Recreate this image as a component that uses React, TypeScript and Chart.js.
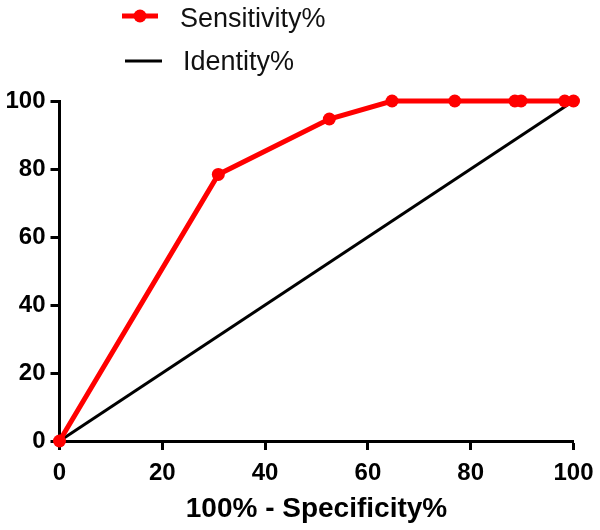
import { useEffect, useRef } from 'react';
import { Chart, registerables } from 'chart.js';

Chart.register(...registerables);

// ---- data ----
const specificityX = [0, 30.9, 52.5, 64.7, 76.9, 88.6, 89.8, 98.3, 100];
const sensitivityY = [0, 78.4, 94.7, 100, 100, 100, 100, 100, 100];
const identityX = [0, 100];
const identityY = [0, 100];
const tickValues = [0, 20, 40, 60, 80, 100];
const seriesLabels = ['Sensitivity%', 'Identity%'];
const xAxisTitle = '100% - Specificity%';

const FONT = "'Liberation Sans', Arial, Helvetica, sans-serif";

const legendPlugin = {
  id: 'stackedLegend',
  afterDraw(chart: any) {
    const ctx = chart.ctx;
    ctx.save();
    chart.data.datasets.forEach((ds: any, i: number) => {
      const lineY = i === 0 ? 16 : 61;
      const x0 = i === 0 ? 122 : 125;
      const x1 = i === 0 ? 158 : 162;
      ctx.strokeStyle = ds.borderColor;
      ctx.lineWidth = ds.borderWidth;
      ctx.beginPath();
      ctx.moveTo(x0, lineY);
      ctx.lineTo(x1, lineY);
      ctx.stroke();
      if (ds.pointRadius > 0) {
        ctx.fillStyle = ds.pointBackgroundColor;
        ctx.beginPath();
        ctx.arc((x0 + x1) / 2, lineY, ds.pointRadius, 0, Math.PI * 2);
        ctx.fill();
      }
      ctx.fillStyle = '#111';
      ctx.font = `27px ${FONT}`;
      ctx.textBaseline = 'alphabetic';
      ctx.textAlign = 'left';
      ctx.fillText(ds.label, i === 0 ? 180 : 183, i === 0 ? 27 : 70);
    });
    ctx.restore();
  },
};

function axisCommon() {
  return {
    type: 'linear' as const,
    min: 0,
    max: 100,
    afterBuildTicks: (s: any) => {
      s.ticks = tickValues.map((v) => ({ value: v }));
    },
    grid: {
      display: true,
      drawOnChartArea: false,
      drawTicks: true,
      tickLength: 9,
      tickWidth: 3,
      tickColor: '#000',
    },
    border: { display: true, color: '#000', width: 3 },
  };
}

export default function App() {
  const ref = useRef<HTMLCanvasElement | null>(null);

  useEffect(() => {
    if (!ref.current) return;
    const chart = new Chart(ref.current, {
      type: 'line',
      data: {
        datasets: [
          {
            label: seriesLabels[0],
            data: specificityX.map((x, i) => ({ x, y: sensitivityY[i] })),
            borderColor: '#ff0000',
            backgroundColor: '#ff0000',
            pointBackgroundColor: '#ff0000',
            pointBorderColor: '#ff0000',
            borderWidth: 5,
            pointRadius: 6.5,
            pointBorderWidth: 0,
            tension: 0,
            clip: false as any,
          },
          {
            label: seriesLabels[1],
            data: identityX.map((x, i) => ({ x, y: identityY[i] })),
            borderColor: '#000000',
            backgroundColor: '#000000',
            pointBackgroundColor: '#000000',
            borderWidth: 3,
            pointRadius: 0,
            tension: 0,
            clip: false as any,
          },
        ],
      },
      options: {
        animation: false,
        responsive: false,
        devicePixelRatio: 1,
        parsing: false as any,
        layout: { padding: { top: 101, right: 26.5, left: 0, bottom: 0 } },
        plugins: {
          legend: { display: false },
          tooltip: { enabled: false },
        },
        scales: {
          x: {
            ...axisCommon(),
            ticks: {
              color: '#000',
              padding: 9,
              maxRotation: 0,
              autoSkip: false,
              font: { family: FONT, size: 24, weight: 'bold' },
            },
            title: {
              display: true,
              text: xAxisTitle,
              color: '#000',
              font: { family: FONT, size: 28, weight: 'bold' },
              padding: { top: 0, bottom: 4 },
            },
            afterFit: (s: any) => {
              s.height = 89;
              s.paddingLeft = 0;
              s.paddingRight = 0;
            },
          },
          y: {
            ...axisCommon(),
            ticks: {
              color: '#000',
              padding: 5,
              autoSkip: false,
              font: { family: FONT, size: 24, weight: 'bold' },
            },
            afterFit: (s: any) => {
              s.width = 59.5;
              s.paddingTop = 0;
              s.paddingBottom = 0;
            },
          },
        },
      } as any,
      plugins: [legendPlugin],
    });
    return () => chart.destroy();
  }, []);

  return (
    <div style={{ position: 'fixed', left: 0, top: 0, width: 600, height: 530, background: '#fff' }}>
      <canvas ref={ref} width={600} height={530} />
    </div>
  );
}
